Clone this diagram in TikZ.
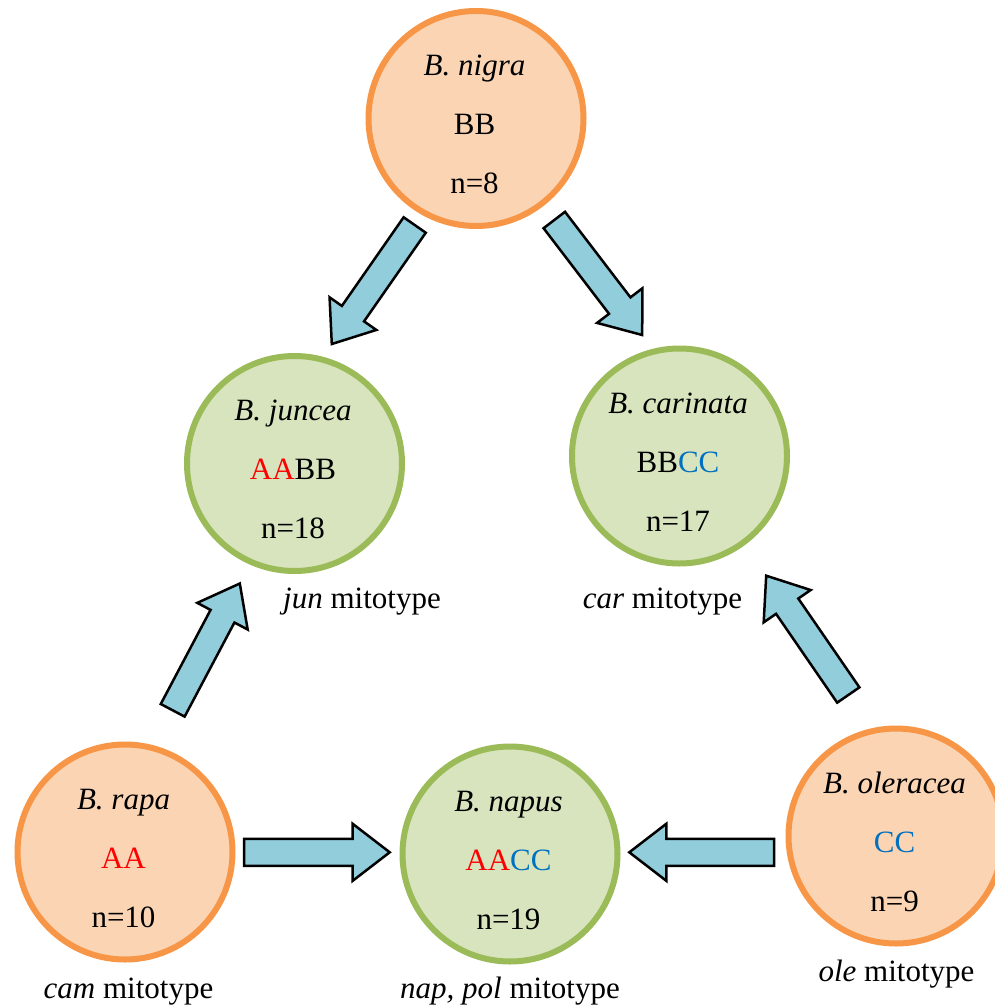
\documentclass[tikz,border=0pt]{standalone}
\usepackage{fontspec}
\setmainfont{Liberation Serif}
\usetikzlibrary{calc}
\definecolor{orfill}{HTML}{FBD4B4}
\definecolor{ordraw}{HTML}{F79646}
\definecolor{grfill}{HTML}{D7E4BD}
\definecolor{grdraw}{HTML}{9BBB59}
\definecolor{arfill}{HTML}{92CDDC}
\definecolor{gred}{HTML}{FF0000}
\definecolor{gblue}{HTML}{0070C0}
\tikzset{
  sp/.style={circle, minimum size=215pt, inner sep=0pt, line width=6pt},
  orangesp/.style={sp, draw=ordraw, fill=orfill},
  greensp/.style={sp, draw=grdraw, fill=grfill},
  txt/.style={anchor=base, inner sep=0pt, font=\fontsize{31}{37}\selectfont},
  barrow/.style={draw=black, fill=arfill, line width=2.5pt, line join=miter},
}
\newcommand\blockarrow[2]{%
  \path ($(#2)!37pt!(#1)$) coordinate (neck);
  \draw[barrow] ($(#1)!13.5pt!90:(#2)$) -- ($(neck)!13.5pt!90:(#2)$) -- ($(neck)!28.5pt!90:(#2)$) -- (#2)
    -- ($(neck)!28.5pt!-90:(#2)$) -- ($(neck)!13.5pt!-90:(#2)$) -- ($(#1)!13.5pt!-90:(#2)$) -- cycle;
}
\newcommand\sptext[4]{%
  \node[txt] (#1-name) at ($(#1)+(-1.5,-43)$) {#2};
  \node[txt] (#1-genome) at ($(#1)+(-1.5,16)$) {#3};
  \node[txt] (#1-n) at ($(#1)+(-1.5,75)$) {#4};
}
\begin{document}
\begin{tikzpicture}[x=1pt, y=-1pt]
\clip (0,0) rectangle (995,1007);
\fill[white] (0,0) rectangle (995,1007);
% species circles
\node[orangesp] (nigra) at (476,118.5) {};
\node[greensp] (juncea) at (294.5,463.5) {};
\node[greensp] (carinata) at (679.5,456) {};
\node[orangesp] (rapa) at (125,852) {};
\node[greensp] (napus) at (510,854) {};
\node[orangesp] (oleracea) at (896,836) {};
% texts
\sptext{nigra}{\textit{B. nigra}}{BB}{n=8}
\sptext{juncea}{\textit{B. juncea}}{\textcolor{gred}{AA}BB}{n=18}
\sptext{carinata}{\textit{B. carinata}}{BB\textcolor{gblue}{CC}}{n=17}
\sptext{rapa}{\textit{B. rapa}}{\textcolor{gred}{AA}}{n=10}
\sptext{napus}{\textit{B. napus}}{\textcolor{gred}{AA}\textcolor{gblue}{CC}}{n=19}
\sptext{oleracea}{\textit{B. oleracea}}{\textcolor{gblue}{CC}}{n=9}
% mitotype labels
\node[txt] (jun) at (362,608.3) {\textit{jun} mitotype};
\node[txt] (car) at (662.5,608.3) {\textit{car} mitotype};
\node[txt] (cam) at (128.5,998) {\textit{cam} mitotype};
\node[txt] (nap) at (510,998.3) {\textit{nap, pol} mitotype};
\node[txt] (ole) at (896.5,981.7) {\textit{ole} mitotype};
% arrow end points
\coordinate (a1s) at (414.7,225);   \coordinate (a1e) at (331.8,344);
\coordinate (a2s) at (554.3,220);   \coordinate (a2e) at (642.2,335);
\coordinate (a3s) at (172.7,710.3); \coordinate (a3e) at (239.8,583.5);
\coordinate (a4s) at (848.3,695);   \coordinate (a4e) at (766.2,575.7);
\coordinate (a5s) at (244,852.3);   \coordinate (a5e) at (389.7,852.3);
\coordinate (a6s) at (774,852.3);   \coordinate (a6e) at (629.3,852.3);
\blockarrow{a1s}{a1e}
\blockarrow{a2s}{a2e}
\blockarrow{a3s}{a3e}
\blockarrow{a4s}{a4e}
\blockarrow{a5s}{a5e}
\blockarrow{a6s}{a6e}
\end{tikzpicture}
\end{document}
